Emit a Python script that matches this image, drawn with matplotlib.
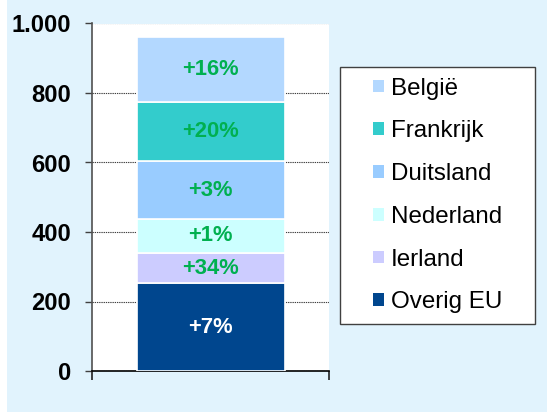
import matplotlib
matplotlib.use("Agg")
import matplotlib.pyplot as plt
from matplotlib.patches import Rectangle, Patch

plt.rcParams['font.family'] = ['Liberation Sans', 'DejaVu Sans']

# Data (bottom to top of the stack)
categories = ["Overig EU", "Ierland", "Nederland", "Duitsland", "Frankrijk", "België"]
values = [252, 87, 99, 165, 172, 185]
growth_labels = ["+7%", "+34%", "+1%", "+3%", "+20%", "+16%"]
colors = ["#00468E", "#CCCCFF", "#CCFFFF", "#99CCFF", "#33CCCC", "#B3D8FF"]
label_colors = ["white", "#00B050", "#00B050", "#00B050", "#00B050", "#00B050"]
yticks = [0, 200, 400, 600, 800, 1000]
ytick_labels = ["0", "200", "400", "600", "800", "1.000"]

W, H = 547, 412
fig = plt.figure(figsize=(W / 100, H / 100), dpi=100)
fig.patch.set_facecolor("#E1F3FD")
fig.patches.append(Rectangle((0, 0), 7 / W, 1, transform=fig.transFigure,
                             facecolor="white", edgecolor="none", zorder=0))

ax = fig.add_axes([91.7 / W, 1 - 371 / H, (329 - 91.7) / W, (371 - 23.5) / H])
ax.set_facecolor("white")
ax.set_xlim(0, 1)
ax.set_ylim(0, 1000)

bottom = 0
handles = []
for cat, v, lab, c, lc in zip(categories, values, growth_labels, colors, label_colors):
    ax.bar(0.502, v, width=0.623, bottom=bottom, color=c, edgecolor="white",
           linewidth=1.2, zorder=3)
    ax.text(0.502, bottom + v / 2, lab, ha="center", va="center", color=lc,
            fontsize=15.8, fontweight="bold", zorder=4)
    handles.append(Patch(facecolor=c, edgecolor="none", label=cat))
    bottom += v

ax.set_yticks(yticks)
ax.set_yticklabels(ytick_labels, fontsize=17.1, fontweight="bold")
ax.yaxis.grid(True, linestyle=(0, (1.2, 0.8)), color="#404040", linewidth=0.8, zorder=1)
ax.set_axisbelow(True)
ax.tick_params(axis="y", direction="out", length=4.8, width=1, color="#404040", pad=10)
ax.set_xticks([0, 1])
ax.set_xticklabels([])
ax.tick_params(axis="x", direction="out", length=6.5, width=1.2, color="#202020")
for s in ["top", "right"]:
    ax.spines[s].set_visible(False)
ax.spines["left"].set_color("#505050")
ax.spines["left"].set_linewidth(1.2)
ax.spines["bottom"].set_color("black")
ax.spines["bottom"].set_linewidth(1.2)

# Legend
fig.patches.append(Rectangle((340 / W, 1 - 324 / H), 195 / W, 257.3 / H,
                             transform=fig.transFigure, facecolor="white",
                             edgecolor="#404040", linewidth=1, zorder=1))
leg = fig.legend(handles=handles[::-1], loc="center",
                 bbox_to_anchor=(437.5 / W, 1 - 195.5 / H), frameon=False,
                 fontsize=17.4, handlelength=0.44, handleheight=0.44,
                 handletextpad=0.30, labelspacing=0.86, borderpad=0)
leg.set_zorder(5)

fig.savefig("out.png", dpi=100, facecolor=fig.get_facecolor())
